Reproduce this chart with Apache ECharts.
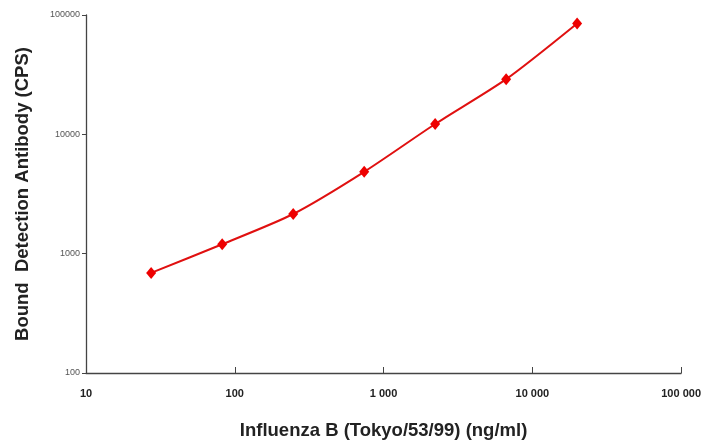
<!DOCTYPE html>
<html><head><meta charset="utf-8">
<script src="https://cdn.jsdelivr.net/npm/echarts@6/dist/echarts.min.js"></script>
<style>html,body{margin:0;padding:0;background:#fff}#c{width:704px;height:445px}</style>
</head><body><div id="c"></div>
<script>
const concentrations = [27.4, 82.3, 247, 741, 2222, 6667, 20000];
const cps = [690, 1200, 2150, 4850, 12200, 29000, 85000];
const xTitle = 'Influenza B (Tokyo/53/99) (ng/ml)';
const yTitle = 'Bound  Detection Antibody (CPS)';

const chart = echarts.init(document.getElementById('c'), null, {renderer: 'canvas'});
chart.setOption({
  animation: false,
  backgroundColor: '#fff',
  grid: {left: 86, right: 19, top: 15, bottom: 63, containLabel: false},
  xAxis: {
    type: 'log', logBase: 10, min: 10, max: 100000,
    name: xTitle, nameLocation: 'middle', nameGap: 48,
    nameTextStyle: {fontFamily: 'Liberation Sans', fontWeight: 'bold', fontSize: 18.5, color: '#222'},
    axisLine: {lineStyle: {color: '#444', width: 1.3}},
    axisTick: {show: true, inside: true, length: 6, lineStyle: {color: '#444'}},
    minorTick: {show: false},
    splitLine: {show: false},
    axisLabel: {
      margin: 15, fontFamily: 'Liberation Sans', fontWeight: 'bold', fontSize: 11, color: '#222',
      formatter: v => Math.round(v).toString().replace(/\B(?=(\d{3})+(?!\d))/g, ' ')
    }
  },
  yAxis: {
    type: 'log', logBase: 10, min: 100, max: 100000,
    name: yTitle, nameLocation: 'middle', nameGap: 54, nameRotate: 90,
    nameTextStyle: {fontFamily: 'Liberation Sans', fontWeight: 'bold', fontSize: 18.5, color: '#222'},
    axisLine: {lineStyle: {color: '#444', width: 1.3}},
    axisTick: {show: true, inside: false, length: 4, lineStyle: {color: '#444'}},
    minorTick: {show: false},
    splitLine: {show: false},
    axisLabel: {
      margin: 6, fontFamily: 'Liberation Sans', fontSize: 9, color: '#555',
      formatter: v => Math.round(v).toString()
    }
  },
  series: [{
    type: 'line',
    data: concentrations.map((x, i) => [x, cps[i]]),
    smooth: 0.25,
    symbol: 'diamond', symbolSize: [10, 12],
    lineStyle: {color: '#e01010', width: 2},
    itemStyle: {color: '#ee0000'}
  }]
});
</script></body></html>
